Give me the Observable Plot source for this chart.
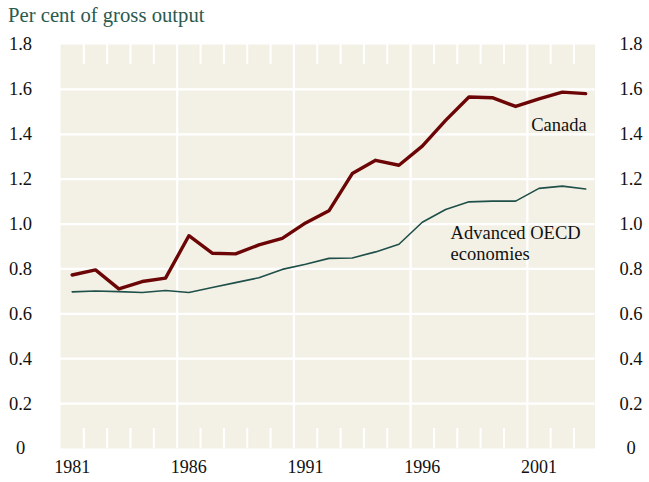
<!DOCTYPE html>
<html>
<head>
<meta charset="utf-8">
<script src="https://cdn.jsdelivr.net/npm/d3@7"></script>
<script src="https://cdn.jsdelivr.net/npm/@observablehq/plot@0.6"></script>
<style>
  html, body { margin: 0; padding: 0; background: #ffffff; }
  #wrap { width: 649px; height: 482px; position: relative; overflow: hidden; }
  #title { font-family: "Liberation Serif", "Times New Roman", serif; font-size: 20.7px; line-height: 30px; height: 30px; color: #2b5a4f; padding-left: 8px; white-space: nowrap; }
  svg { display: block; }
  #chart svg, #chart svg text { font-family: "Liberation Serif", "Times New Roman", serif !important; }
</style>
</head>
<body>
<div id="wrap">
  <div id="title">Per cent of gross output</div>
  <div id="chart"></div>
</div>
<script>
// ---- data ----
const years = [1981,1982,1983,1984,1985,1986,1987,1988,1989,1990,1991,1992,1993,1994,1995,1996,1997,1998,1999,2000,2001,2002,2003];
const canada = [0.773,0.796,0.711,0.744,0.759,0.948,0.870,0.867,0.907,0.936,1.005,1.059,1.225,1.284,1.262,1.347,1.462,1.566,1.563,1.524,1.558,1.588,1.581];
const oecd = [0.698,0.702,0.699,0.695,0.704,0.695,0.717,0.739,0.761,0.798,0.821,0.847,0.849,0.876,0.910,1.008,1.065,1.099,1.102,1.102,1.159,1.169,1.156];
const seriesNames = ["Canada", "Advanced OECD\neconomies"];
const xTickYears = [1981,1986,1991,1996,2001];
const yTicks = [0,0.2,0.4,0.6,0.8,1.0,1.2,1.4,1.6,1.8];

// ---- build tables ----
const canadaRows = years.map((year, i) => ({year, value: canada[i], series: seriesNames[0]}));
const oecdRows = years.map((year, i) => ({year, value: oecd[i], series: seriesNames[1]}));
const majorGrid = xTickYears.slice(1).map(y => y - 0.5);
const minorTicks = years.slice(0, -1).map(y => y + 0.5).filter(b => !majorGrid.includes(b));
const fmt = d => d === 0 ? "0" : d.toFixed(1);

const RED = "#6c0606";
const GREEN = "#1f4f49";
const BG = "#f3f1e6";
const FONT = "'Liberation Serif', 'Times New Roman', serif";

const chart = Plot.plot({
  width: 649,
  height: 452,
  marginTop: 14,
  marginBottom: 34,
  marginLeft: 60,
  marginRight: 54.5,
  style: {fontFamily: FONT, background: "transparent", overflow: "visible"},
  x: {domain: [1980.5, 2003.4], axis: null},
  y: {domain: [0, 1.8], axis: null},
  marks: [
    Plot.frame({fill: BG, stroke: null}),
    Plot.ruleY(yTicks.filter(d => d > 0 && d < 1.8), {stroke: "white", strokeWidth: 2.2}),
    Plot.ruleX(majorGrid, {stroke: "white", strokeWidth: 2.2}),
    Plot.ruleX(minorTicks, {stroke: "white", strokeWidth: 2, insetBottom: 384}),
    Plot.ruleX(minorTicks, {stroke: "white", strokeWidth: 2, insetTop: 384}),
    Plot.line(oecdRows, {x: "year", y: "value", stroke: GREEN, strokeWidth: 1.6}),
    Plot.line(canadaRows, {x: "year", y: "value", stroke: RED, strokeWidth: 3.4}),
    Plot.text(canadaRows, Plot.selectLast({x: "year", y: "value", text: "series", textAnchor: "end", dx: 1, dy: 31, fontSize: 18.5, fontFamily: FONT, fill: "#111"})),
    Plot.text(oecdRows.filter(d => d.year === 1997), {x: "year", y: "value", text: "series", textAnchor: "start", lineAnchor: "top", lineHeight: 1.135, dx: 5, dy: 15, fontSize: 18.5, fontFamily: FONT, fill: "#111"}),
    Plot.text(yTicks, {y: d => d, text: fmt, frameAnchor: "left", dx: -40, textAnchor: "middle", fontSize: 18.5, fontFamily: FONT, fill: "#111"}),
    Plot.text(yTicks, {y: d => d, text: fmt, frameAnchor: "right", dx: 36, textAnchor: "middle", fontSize: 18.5, fontFamily: FONT, fill: "#111"}),
    Plot.text(xTickYears, {x: d => d, text: d => String(d), frameAnchor: "bottom", dy: 24.5, textAnchor: "middle", fontSize: 18, fontFamily: FONT, fill: "#111"})
  ]
});
document.getElementById("chart").appendChild(chart);
</script>
</body>
</html>
